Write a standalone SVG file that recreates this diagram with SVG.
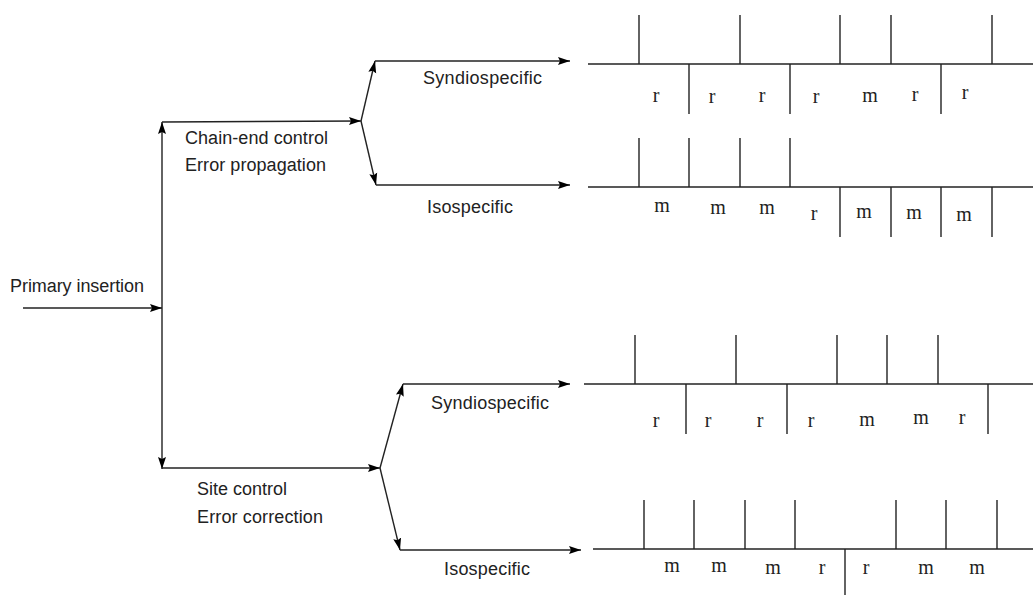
<svg xmlns="http://www.w3.org/2000/svg" width="1033" height="595" viewBox="0 0 1033 595">
<style>
.lbl{font-family:"Liberation Sans",Arial,sans-serif;font-size:18px;fill:#222}
.res{font-family:"Liberation Serif","Times New Roman",serif;font-size:20px;fill:#222;text-anchor:middle}
.conn{stroke:#222;stroke-width:1.4;fill:none;marker-end:url(#ah)}
.chain line{stroke:#222;stroke-width:1.4}
</style>
<defs>
<marker id="ah" markerUnits="userSpaceOnUse" markerWidth="13" markerHeight="10" refX="12" refY="5" orient="auto">
<path d="M0,1 L12,5 L0,9 L2,5 Z" fill="#000"/>
</marker>
</defs>
<rect width="1033" height="595" fill="#fff"/>

<g id="connectors">
<line class="conn" x1="23" y1="308" x2="162" y2="308"/>
<line class="conn" x1="162" y1="308" x2="162" y2="122"/>
<line class="conn" x1="162" y1="308" x2="162" y2="469"/>
<line class="conn" x1="162" y1="122" x2="361" y2="121"/>
<line class="conn" x1="162" y1="468" x2="380" y2="468"/>
<line class="conn" x1="361" y1="121" x2="375" y2="61"/>
<line class="conn" x1="361" y1="121" x2="376" y2="185"/>
<line class="conn" x1="380" y1="468" x2="403" y2="384"/>
<line class="conn" x1="380" y1="468" x2="400" y2="550"/>
<line class="conn" x1="375" y1="61" x2="570" y2="61"/>
<line class="conn" x1="376" y1="185" x2="570" y2="185"/>
<line class="conn" x1="403" y1="384" x2="570" y2="384"/>
<line class="conn" x1="400" y1="550" x2="581" y2="550"/>
</g>

<g id="primary-insertion"><text class="lbl" x="10" y="292" textLength="134">Primary insertion</text></g>
<g id="chain-end-control">
<text class="lbl" x="185" y="144" textLength="143">Chain-end control</text>
<text class="lbl" x="185" y="171" textLength="141">Error propagation</text>
</g>
<g id="site-control">
<text class="lbl" x="197" y="495" textLength="90">Site control</text>
<text class="lbl" x="197" y="523" textLength="126">Error correction</text>
</g>
<g id="label-syndio-1"><text class="lbl" x="423" y="84" textLength="119">Syndiospecific</text></g>
<g id="label-iso-1"><text class="lbl" x="427" y="213" textLength="86">Isospecific</text></g>
<g id="label-syndio-2"><text class="lbl" x="431" y="409" textLength="118">Syndiospecific</text></g>
<g id="label-iso-2"><text class="lbl" x="444" y="575" textLength="86">Isospecific</text></g>

<g id="chain-syndio-1" class="chain">
<line x1="588" y1="64" x2="1033" y2="64"/>
<line x1="639" y1="15" x2="639" y2="64"/>
<line x1="740" y1="15" x2="740" y2="64"/>
<line x1="840" y1="15" x2="840" y2="64"/>
<line x1="891" y1="15" x2="891" y2="64"/>
<line x1="992" y1="15" x2="992" y2="64"/>
<line x1="689" y1="64" x2="689" y2="114"/>
<line x1="790" y1="64" x2="790" y2="114"/>
<line x1="941" y1="64" x2="941" y2="114"/>
<text class="res" x="656" y="102">r</text>
<text class="res" x="712" y="103">r</text>
<text class="res" x="762" y="102">r</text>
<text class="res" x="816" y="103">r</text>
<text class="res" x="870" y="102">m</text>
<text class="res" x="915" y="101">r</text>
<text class="res" x="965" y="99">r</text>
</g>

<g id="chain-iso-1" class="chain">
<line x1="588" y1="187" x2="1033" y2="187"/>
<line x1="639" y1="138" x2="639" y2="187"/>
<line x1="689" y1="138" x2="689" y2="187"/>
<line x1="740" y1="138" x2="740" y2="187"/>
<line x1="790" y1="138" x2="790" y2="187"/>
<line x1="840" y1="187" x2="840" y2="237"/>
<line x1="891" y1="187" x2="891" y2="237"/>
<line x1="941" y1="187" x2="941" y2="237"/>
<line x1="992" y1="187" x2="992" y2="237"/>
<text class="res" x="662" y="212">m</text>
<text class="res" x="718" y="214">m</text>
<text class="res" x="767" y="214">m</text>
<text class="res" x="814" y="220">r</text>
<text class="res" x="864" y="218">m</text>
<text class="res" x="914" y="219">m</text>
<text class="res" x="964" y="221">m</text>
</g>

<g id="chain-syndio-2" class="chain">
<line x1="584" y1="384" x2="1033" y2="384"/>
<line x1="635" y1="335" x2="635" y2="384"/>
<line x1="736" y1="335" x2="736" y2="384"/>
<line x1="837" y1="335" x2="837" y2="384"/>
<line x1="887" y1="335" x2="887" y2="384"/>
<line x1="938" y1="335" x2="938" y2="384"/>
<line x1="686" y1="384" x2="686" y2="434"/>
<line x1="787" y1="384" x2="787" y2="434"/>
<line x1="988" y1="384" x2="988" y2="434"/>
<text class="res" x="656" y="427">r</text>
<text class="res" x="708" y="427">r</text>
<text class="res" x="760" y="427">r</text>
<text class="res" x="811" y="427">r</text>
<text class="res" x="867" y="426">m</text>
<text class="res" x="921" y="424">m</text>
<text class="res" x="962" y="424">r</text>
</g>

<g id="chain-iso-2" class="chain">
<line x1="593" y1="549" x2="1033" y2="549"/>
<line x1="644" y1="500" x2="644" y2="549"/>
<line x1="694" y1="500" x2="694" y2="549"/>
<line x1="745" y1="500" x2="745" y2="549"/>
<line x1="795" y1="500" x2="795" y2="549"/>
<line x1="896" y1="500" x2="896" y2="549"/>
<line x1="946" y1="500" x2="946" y2="549"/>
<line x1="997" y1="500" x2="997" y2="549"/>
<line x1="845" y1="549" x2="845" y2="595"/>
<text class="res" x="672" y="572">m</text>
<text class="res" x="719" y="572">m</text>
<text class="res" x="773" y="574">m</text>
<text class="res" x="822" y="574">r</text>
<text class="res" x="866" y="574">r</text>
<text class="res" x="926" y="574">m</text>
<text class="res" x="977" y="574">m</text>
</g>
</svg>
